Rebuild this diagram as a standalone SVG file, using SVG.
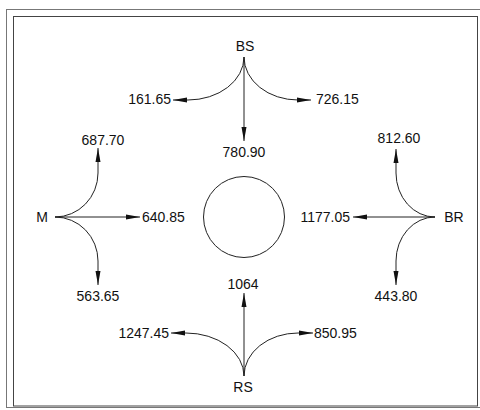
<svg xmlns="http://www.w3.org/2000/svg" width="480" height="410" viewBox="0 0 480 410">
<style>
  .lbl { font-family: "Liberation Sans", Arial, sans-serif; font-size: 14px; fill: #111; }
  .mid { text-anchor: middle; }
  .end { text-anchor: end; }
  .conn { fill: none; stroke: #222; stroke-width: 1; marker-end: url(#ah); }
</style>
<defs>
  <marker id="ah" markerUnits="userSpaceOnUse" markerWidth="15" markerHeight="7" refX="14" refY="3.5" orient="auto">
    <path d="M0,1 L14,3.5 L0,6 z" fill="#111"/>
  </marker>
</defs>
<rect width="480" height="410" fill="#fff"/>
<g id="frame" fill="none">
  <rect x="6.5" y="9.5" width="476" height="398" stroke="#777" stroke-width="1"/>
  <rect x="13.5" y="16.5" width="464" height="389.5" stroke="#444" stroke-width="1"/>
</g>
<g id="roundabout">
  <circle cx="244" cy="217" r="40.5" fill="none" stroke="#222" stroke-width="1"/>
</g>
<g id="connectors">
  <path class="conn" d="M244,57 V141"/>
  <path class="conn" d="M244,57 A56,43 0 0 1 188,100 H173"/>
  <path class="conn" d="M244,57 A54,43 0 0 0 298,100 H311"/>
  <path class="conn" d="M55,217 H140"/>
  <path class="conn" d="M55,217 A43,44 0 0 0 98,173 V148"/>
  <path class="conn" d="M55,217 A43,44 0 0 1 98,261 V285"/>
  <path class="conn" d="M435,217 H353"/>
  <path class="conn" d="M435,217 A39,44 0 0 1 396,173 V149"/>
  <path class="conn" d="M435,217 A39,44 0 0 0 396,261 V285"/>
  <path class="conn" d="M244,376 V293"/>
  <path class="conn" d="M244,376 A58,43 0 0 0 186,333 H171"/>
  <path class="conn" d="M244,376 A54,43 0 0 1 298,333 H313"/>
</g>
<g id="node-BS"><text class="lbl mid" x="245" y="51">BS</text></g>
<g id="node-M"><text class="lbl mid" x="42" y="222">M</text></g>
<g id="node-BR"><text class="lbl mid" x="454" y="222">BR</text></g>
<g id="node-RS"><text class="lbl mid" x="243" y="392">RS</text></g>
<g id="label-161-65"><text class="lbl end" x="171" y="104">161.65</text></g>
<g id="label-726-15"><text class="lbl" x="316" y="104">726.15</text></g>
<g id="label-780-90"><text class="lbl mid" x="244" y="157">780.90</text></g>
<g id="label-687-70"><text class="lbl mid" x="103" y="145">687.70</text></g>
<g id="label-640-85"><text class="lbl" x="142" y="222">640.85</text></g>
<g id="label-563-65"><text class="lbl mid" x="98" y="301">563.65</text></g>
<g id="label-812-60"><text class="lbl mid" x="399" y="143">812.60</text></g>
<g id="label-1177-05"><text class="lbl end" x="350" y="222">1177.05</text></g>
<g id="label-443-80"><text class="lbl mid" x="396" y="301">443.80</text></g>
<g id="label-1064"><text class="lbl mid" x="243" y="289">1064</text></g>
<g id="label-1247-45"><text class="lbl end" x="169" y="338">1247.45</text></g>
<g id="label-850-95"><text class="lbl" x="314" y="338">850.95</text></g>
</svg>
